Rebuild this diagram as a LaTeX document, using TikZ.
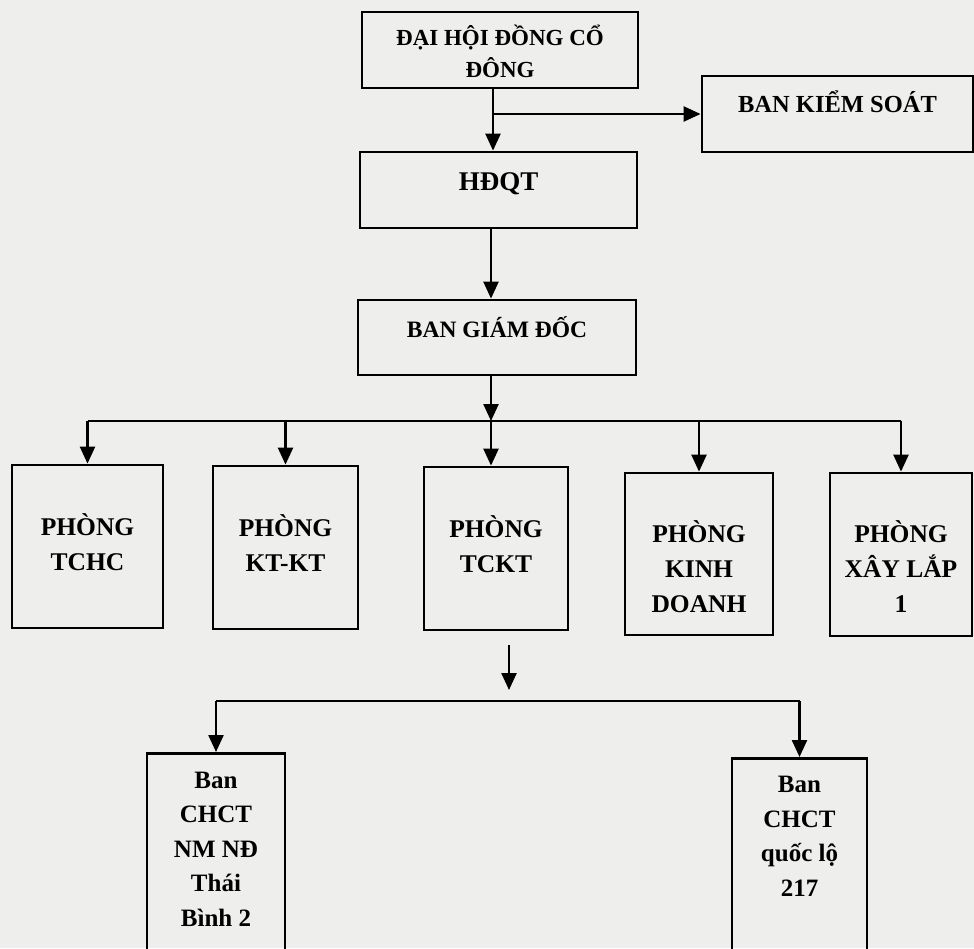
\documentclass[tikz,border=0pt]{standalone}
\usepackage{fontspec}
\setmainfont{Liberation Serif}
\usetikzlibrary{arrows.meta}
\definecolor{Paper}{HTML}{EEEEEC}

\begin{document}
\begin{tikzpicture}[x=1pt, y=-1pt,
  box/.style={draw, line width=2.8pt, align=center, inner sep=0pt},
  head/.style={box, minimum height=76pt, text height=20pt, text depth=20pt},
  dept/.style={box, minimum height=163pt, text height=55pt, text depth=8pt,
               font=\bfseries\fontsize{25.5}{35}\selectfont},
  dept3/.style={dept, text height=122pt, text depth=6pt},
  site/.style={box, anchor=north, minimum height=250pt, text depth=6pt,
               font=\bfseries\fontsize{25}{34.5}\selectfont},
  arr/.style={-{Triangle[length=17pt,width=15pt]}, line width=2.4pt},
  bus/.style={line width=2.4pt}
]
  \useasboundingbox (0,0) rectangle (974,948);
  \fill[Paper] (0,0) rectangle (974,948);

  %% Top levels
  \node[head, minimum width=276pt, text height=60pt, text depth=6pt,
        font=\bfseries\fontsize{23}{32}\selectfont] (dhdcd) at (500,50) {ĐẠI HỘI ĐỒNG CỔ\\ĐÔNG};
  \node[head, minimum width=271pt, text height=18pt, text depth=22pt,
        font=\bfseries\fontsize{24.5}{30}\selectfont] (bks) at (837.5,114) {BAN KIỂM SOÁT};
  \node[head, minimum width=277pt, font=\bfseries\fontsize{27}{32}\selectfont] (hdqt) at (498.5,190) {HĐQT};
  \node[head, minimum width=278pt, minimum height=75pt, font=\bfseries\fontsize{23.5}{30}\selectfont] (bgd) at (497,337.5) {BAN GIÁM ĐỐC};

  %% Departments
  \node[dept, minimum width=151pt] (tchc) at (87.5,546.5) {PHÒNG\\TCHC};
  \node[dept, minimum width=145pt] (ktkt) at (285.5,547.5) {PHÒNG\\KT-KT};
  \node[dept, minimum width=144pt] (tckt) at (496,548.5) {PHÒNG\\TCKT};
  \node[dept3, minimum width=148pt, minimum height=162pt] (kd) at (699,554) {PHÒNG\\KINH\\DOANH};
  \node[dept3, minimum width=142pt] (xl) at (901,554.5) {PHÒNG\\XÂY LẮP\\1};

  %% Site boards
  \node[site, minimum width=138pt, text height=102pt] (ban1) at (216,752) {Ban\\CHCT\\NM NĐ\\Thái\\Bình 2};
  \node[site, minimum width=135pt, text height=32pt] (ban2) at (799.5,757) {Ban\\CHCT\\quốc lộ\\217};

  %% Connectors
  \coordinate (spine) at (493,0);
  \coordinate (bus1) at (491,421);
  \coordinate (sub) at (509,645);
  \coordinate (subtip) at (509,690);
  \coordinate (bus2) at (509,701);

  \draw[arr] (dhdcd.south -| spine) -- (hdqt.north -| spine);
  \draw[arr] (spine |- bks.west) -- (bks.west);
  \draw[arr] (hdqt.south -| bus1) -- (bgd.north -| bus1);
  \draw[arr] (bgd.south -| bus1) -- (bus1);
  \draw[bus] (tchc.north |- bus1) -- (xl.north |- bus1);
  \draw[arr] (bus1) -- (tckt.north -| bus1);
  \foreach \d in {tchc,ktkt,kd,xl}
    \draw[arr] (\d.north |- bus1) -- (\d.north);

  \draw[arr] (sub) -- (subtip);
  \draw[bus] (ban1.north |- bus2) -- (ban2.north |- bus2);
  \draw[arr] (ban1.north |- bus2) -- (ban1.north);
  \draw[arr] (ban2.north |- bus2) -- (ban2.north);
\end{tikzpicture}
\end{document}
